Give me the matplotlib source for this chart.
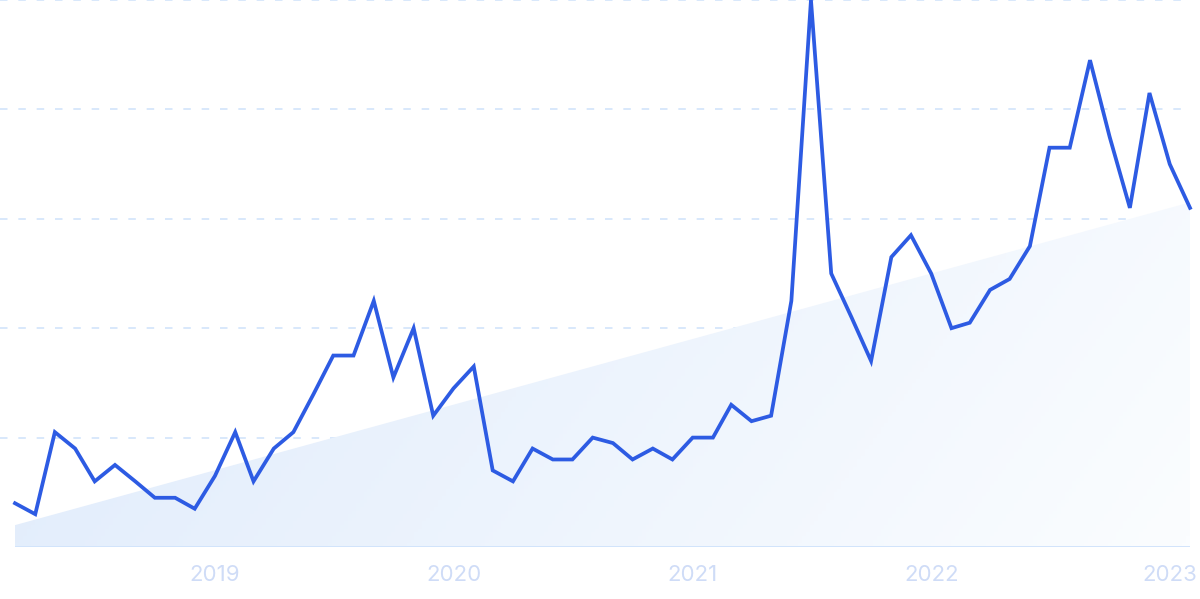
import numpy as np
import pandas as pd
import matplotlib
matplotlib.use("Agg")
import matplotlib.pyplot as plt
import matplotlib.dates as mdates
from matplotlib.colors import LinearSegmentedColormap
from matplotlib.patches import Polygon

# monthly interest values (0-100), Mar 2018 .. Feb 2023
months = pd.date_range("2018-03-01", periods=60, freq="MS")
values = [8, 6, 21, 18, 12, 15, 12, 9, 9, 7,
          13, 21, 12, 18, 21, 28, 35, 35, 45, 31,
          40, 24, 29, 33, 14, 12, 18, 16, 16, 20,
          19, 16, 18, 16, 20, 20, 26, 23, 24, 45,
          100, 50, 42, 34, 53, 57, 50, 40, 41, 47,
          49, 55, 73, 73, 89, 75, 62, 83, 70, 62]
trend_start, trend_end = 4, 63
year_ticks = ["2019", "2020", "2021", "2022", "2023"]

plt.rcParams['font.family'] = ['Inter', 'DejaVu Sans']

fig = plt.figure(figsize=(12, 5.99), dpi=100)
ax = fig.add_axes([15 / 1200, 52 / 599, 1175 / 1200, 547 / 599])

x0 = mdates.date2num(months[0])
x1 = mdates.date2num(months[-1])
ax.set_xlim(x0, x1)
ax.set_ylim(0, 100)

# gradient trend area
cmap = LinearSegmentedColormap.from_list("trend", ["#dce9fb", "#fbfdff"])
gx, gy = np.meshgrid(np.linspace(0, 1, 300), np.linspace(1, 0, 150))
grad = 0.75 * gx + 0.25 * (1 - gy)
img = ax.imshow(grad, cmap=cmap, extent=[x0, x1, 0, 100], aspect="auto",
                origin="upper", zorder=1)
poly = Polygon([[x0, 0], [x0, trend_start], [x1, trend_end], [x1, 0]],
               closed=True, facecolor="none", edgecolor="none",
               transform=ax.transData)
ax.add_patch(poly)
img.set_clip_path(poly)

# gridlines, running out to the left edge of the picture
for g in [20, 40, 60, 80, 100]:
    ax.plot([-15 / 1175, 1], [g / 100, g / 100], transform=ax.transAxes,
            color="#d2e4fb", lw=1.2, ls=(0, (4.5, 6.5)), zorder=0, clip_on=False)
ax.axhline(0, color="#d2e4fb", lw=1.4, zorder=2)

ax.plot(months, values, color="#2d5be3", lw=2.7, zorder=3,
        solid_joinstyle="miter", clip_on=False)

ax.set_xticks([mdates.date2num(pd.Timestamp(f"{y}-01-01")) for y in year_ticks])
ax.set_xticklabels(year_ticks, color="#cfdcf7", fontsize=16)
ax.tick_params(axis="x", length=0, pad=13)
ax.set_yticks([])
for s in ax.spines.values():
    s.set_visible(False)

fig.savefig("out.png", dpi=100)
